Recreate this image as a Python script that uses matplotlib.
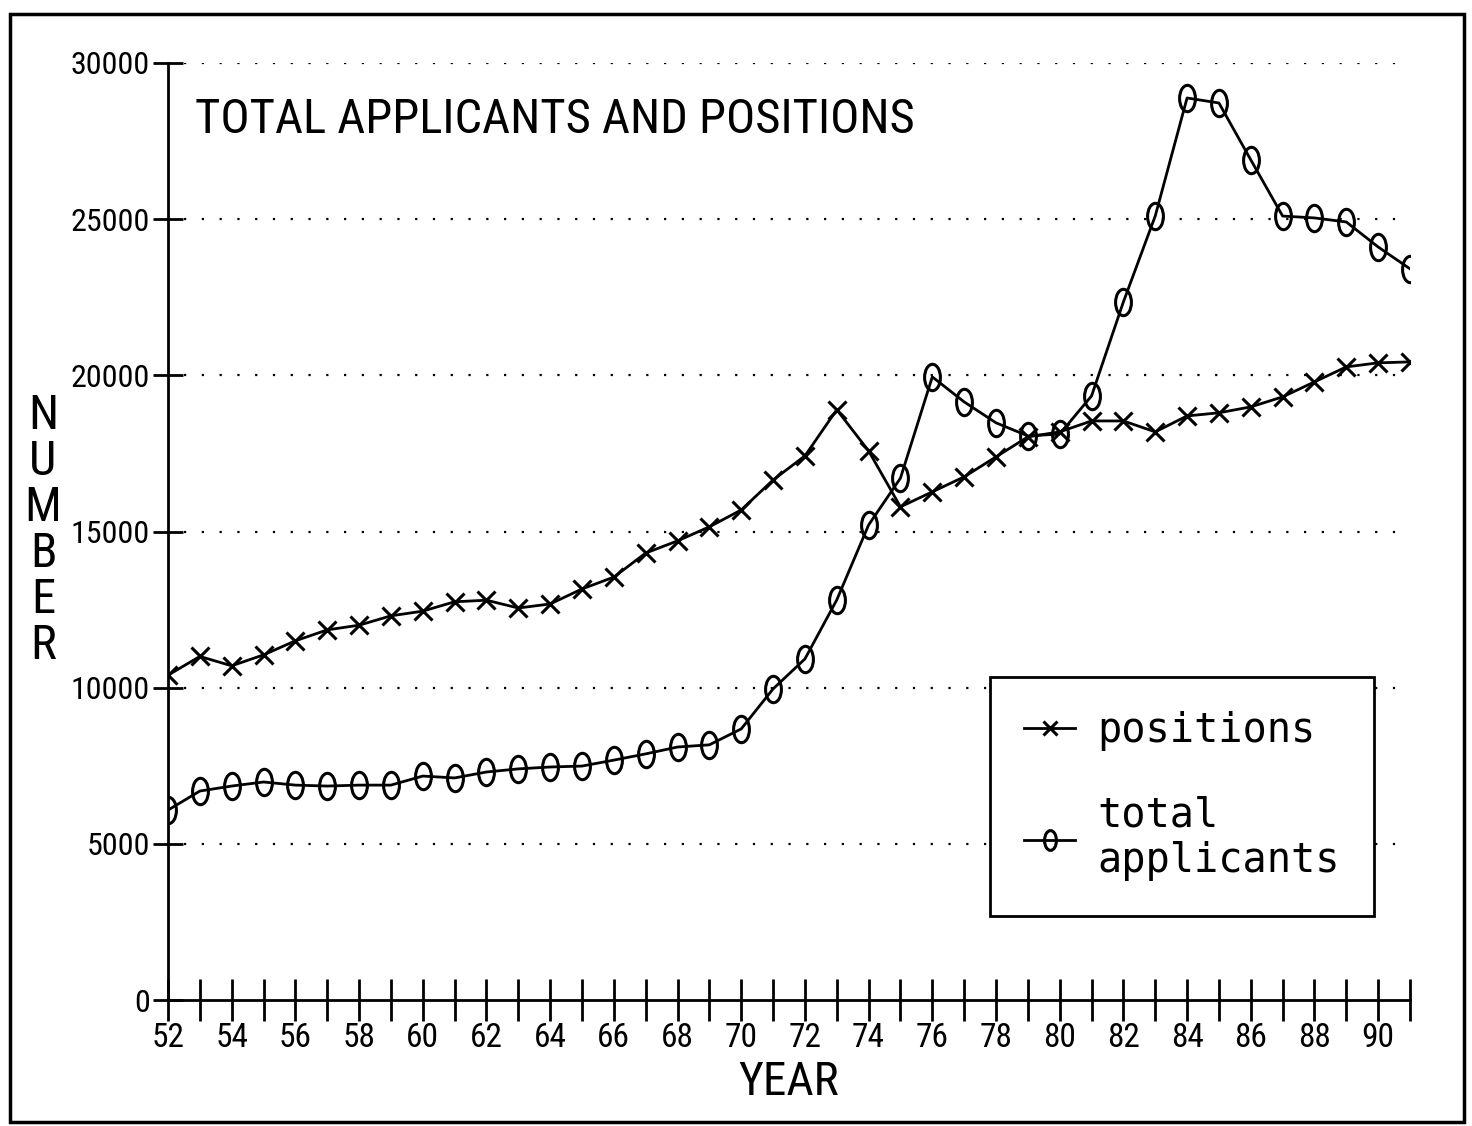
import matplotlib
matplotlib.use("Agg")
import matplotlib.pyplot as plt
from matplotlib import font_manager as fm
from matplotlib.markers import MarkerStyle
from matplotlib.transforms import Affine2D
from matplotlib.patches import Rectangle

years = list(range(52, 92))
positions = [10400, 11000, 10700, 11050, 11500, 11850, 12000, 12300, 12450, 12750,
             12800, 12550, 12680, 13160, 13540, 14310, 14700, 15150, 15690, 16650,
             17420, 18900, 17580, 15790, 16270, 16750, 17390, 18030, 18190, 18540,
             18540, 18190, 18700, 18800, 18990, 19310, 19790, 20270, 20400, 20430]
applicants = [6080, 6690, 6850, 6980, 6880, 6850, 6880, 6880, 7170, 7110,
              7300, 7400, 7460, 7490, 7680, 7880, 8100, 8170, 8680, 9960,
              10920, 12810, 15210, 16710, 19950, 19150, 18480, 18060, 18120, 19340,
              22350, 25100, 28880, 28720, 26900, 25100, 25040, 24910, 24110, 23410]
yticks = [0, 5000, 10000, 15000, 20000, 25000, 30000]
xlabels = list(range(52, 91, 2))

# pick a narrow face if one is installed
have = {f.name for f in fm.fontManager.ttflist}
cands = ['Liberation Sans Narrow', 'Roboto Condensed', 'Open Sans Condensed',
         'DejaVu Sans Condensed']
narrow_fam = next((n for n in cands if n in have), 'DejaVu Sans')
narrow = [narrow_fam, 'DejaVu Sans']
mono = ['DejaVu Sans Mono', 'DejaVu Sans']
stretch = 'condensed'

fig = plt.figure(figsize=(14.72, 11.26), dpi=100)
ax = fig.add_axes([168/1472, 1-1000/1126, (1410-168)/1472, (1000-63)/1126])

oval = MarkerStyle('o', transform=Affine2D().scale(0.6, 1.0))
ax.plot(years, positions, color='black', lw=2, marker='x', ms=13, mew=2.2,
        label='positions')
ax.plot(years, applicants, color='black', lw=2, marker=oval, ms=19, mew=2.2,
        mfc='none', label='total\napplicants')

ax.set_xlim(52, 91)
ax.set_ylim(0, 30000)
for v in yticks[1:]:
    ax.plot([52.5, 91], [v, v], color='black', lw=1.6, ls=(0, (1, 7)))

ax.spines['top'].set_visible(False)
ax.spines['right'].set_visible(False)
ax.spines['left'].set_linewidth(2)
ax.spines['bottom'].set_linewidth(2)

ax.set_yticks(yticks)
ax.set_yticklabels([str(v) for v in yticks], fontfamily=narrow, fontsize=23,
                   fontstretch=stretch)
ax.set_xticks(years)
ax.set_xticklabels([str(y) if y in xlabels else '' for y in years],
                   fontfamily=narrow, fontsize=24, fontstretch=stretch)
ax.tick_params(axis='y', direction='inout', length=22, width=2, pad=2)
ax.tick_params(axis='x', direction='inout', length=30, width=2, pad=1)

ax.set_xlabel('YEAR', fontfamily=narrow, fontsize=34, fontstretch=stretch,
              labelpad=4)
fig.text(43/1472, 1-531/1126, 'N\nU\nM\nB\nE\nR', fontfamily=narrow, fontsize=35,
         fontstretch=stretch, ha='center', va='center', linespacing=1.0)

ax.text(0.022, 0.939, 'TOTAL APPLICANTS AND POSITIONS', transform=ax.transAxes,
        fontfamily=narrow, fontsize=35, fontstretch=stretch, va='center',
        ha='left')

leg = ax.legend(loc='upper left', bbox_to_anchor=(0.662, 0.345),
                prop={'family': mono, 'size': 29}, frameon=True, fancybox=False,
                edgecolor='black', handlelength=1.25, handletextpad=0.55,
                borderpad=0.85, labelspacing=1.1, borderaxespad=0,
                markerscale=0.75)
leg.get_frame().set_linewidth(2)
leg.get_frame().set_alpha(1)

fig.patches.append(Rectangle((10/1472, 1-1122/1126), 1454/1472, 1108/1126,
                             transform=fig.transFigure, fill=False,
                             edgecolor='black', lw=2.5))

fig.savefig('out.png', dpi=100)
